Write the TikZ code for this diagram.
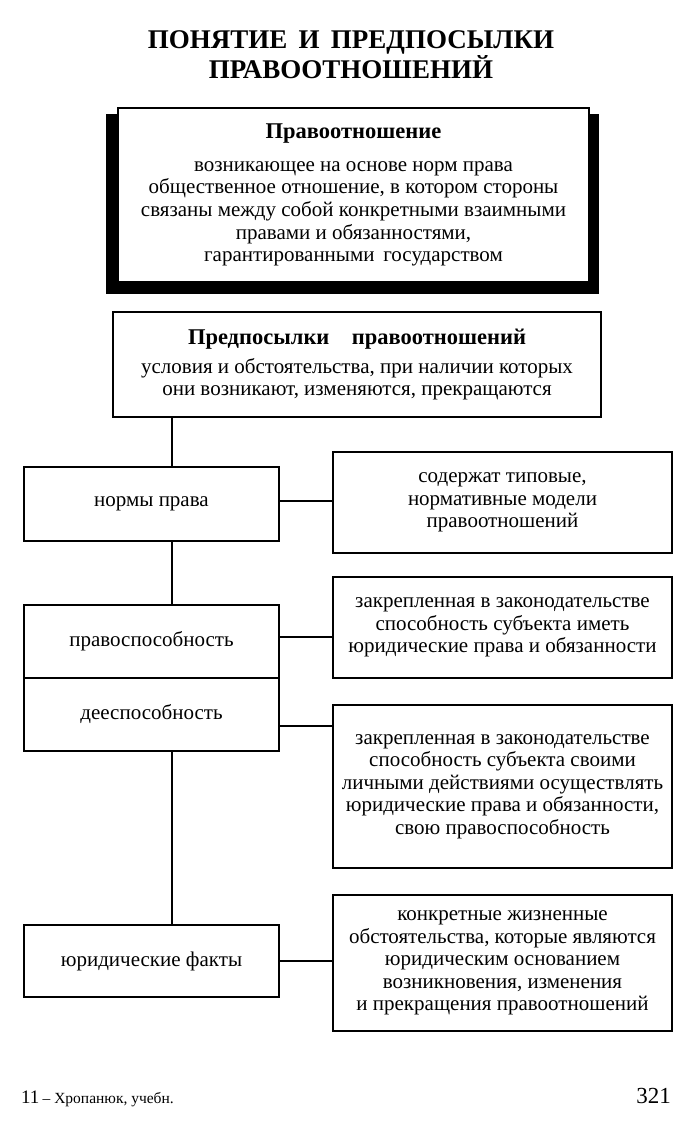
\documentclass[tikz,border=0pt]{standalone}
\usepackage{fontspec}
\setmainfont{Liberation Serif}
\usetikzlibrary{backgrounds,calc}
\newcommand\bodyfont{\fontsize{21}{22.6}\selectfont}
\newcommand\headfont{\fontsize{22.5}{24}\selectfont\bfseries}
\begin{document}
\begin{tikzpicture}[x=1pt,y=-1pt,
  box/.style={draw, line width=1.3pt, fill=white, align=center, inner sep=0pt, font=\bodyfont},
  leftbox/.style={box, minimum width=255pt},
  rightbox/.style={box, minimum width=339pt},
  conn/.style={line width=1.8pt}]
\useasboundingbox (0,0) rectangle (697,1127);
% title
\node[align=center, font=\fontsize{27}{30}\selectfont\bfseries, anchor=base] (title) at (351,78)
  {ПОНЯТИЕ\, И\, ПРЕДПОСЫЛКИ\\ПРАВООТНОШЕНИЙ};
% definition box
\node[box, minimum width=471pt, minimum height=174pt] (def) at (353.5,195)
  {{\headfont Правоотношение}\\[10pt]
   возникающее на основе норм права\\
   общественное отношение, в котором стороны\\
   связаны между собой конкретными взаимными\\
   правами и обязанностями,\\
   гарантированными\, государством};
\begin{scope}[on background layer]
  \fill ([xshift=-11pt,yshift=-11pt]def.south west) rectangle ([xshift=9pt,yshift=-7pt]def.north east);
\end{scope}
% prerequisites box
\node[box, minimum width=488pt, minimum height=105pt] (pre) at (357,364.5)
  {{\headfont Предпосылки\quad правоотношений}\\[6pt]
   условия и обстоятельства, при наличии которых\\
   они возникают, изменяются, прекращаются};
% left column
\node[leftbox, minimum height=74pt] (norm) at (151.5,504) {нормы права};
\node[leftbox, minimum height=73pt] (pravo) at (151.5,641.5) {правоспособность};
\node[leftbox, minimum height=73pt] (dee) at (151.5,714.5) {дееспособность};
\node[leftbox, minimum height=72pt] (fact) at (151.5,961) {юридические факты};
% right column
\node[rightbox, minimum height=101pt] (r1) at (502.5,502.5)
  {содержат типовые,\\нормативные модели\\правоотношений};
\node[rightbox, minimum height=101pt] (r2) at (502.5,627.5)
  {закрепленная в законодательстве\\способность субъекта иметь\\юридические права и обязанности};
\node[rightbox, minimum height=163pt] (r3) at (502.5,786.5)
  {закрепленная в законодательстве\\способность субъекта своими\\личными действиями осуществлять\\юридические права и обязанности,\\свою правоспособность};
\node[rightbox, minimum height=136pt] (r4) at (502.5,963)
  {конкретные жизненные\\обстоятельства, которые являются\\юридическим основанием\\возникновения, изменения\\и прекращения правоотношений};
% trunk
\draw[conn] (172,0 |- pre.south) coordinate (t0) -- (t0 |- norm.north);
\draw[conn] (t0 |- norm.south) -- (t0 |- pravo.north);
\draw[conn] (t0 |- dee.south) -- (t0 |- fact.north);
% branches
\draw[conn] ([yshift=3pt]norm.east) -- ([yshift=3pt]norm.east -| r1.west);
\draw[conn] ([yshift=4.5pt]pravo.east) -- ([yshift=4.5pt]pravo.east -| r2.west);
\draw[conn] ([yshift=-11.5pt]dee.east) -- ([yshift=-11.5pt]dee.east -| r3.west);
\draw[conn] (fact.east) -- (fact.east -| r4.west);
% footer
\node[anchor=base west, inner sep=0pt] (foot) at (21,1103)
  {\fontsize{19}{19}\selectfont 11\,{\fontsize{15.5}{15.5}\selectfont – Хропанюк, учебн.}};
\node[anchor=base east, inner sep=0pt] (page) at (671,1103)
  {\fontsize{23}{23}\selectfont 321};
\end{tikzpicture}
\end{document}
